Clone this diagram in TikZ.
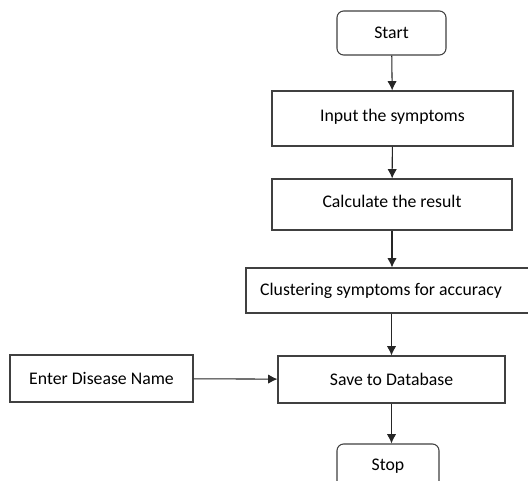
\documentclass[tikz,border=0pt]{standalone}
\usepackage{fontspec}
\setmainfont{Carlito}
\usetikzlibrary{arrows.meta}

\tikzset{
  box/.style={draw=black!75, line width=0.8pt, fill=white, font=\fontsize{13.3}{15}\selectfont, inner sep=0pt},
  term/.style={box, rounded corners=5pt},
  flow/.style={draw=black!85, line width=0.8pt, -{Latex[length=7pt,width=7pt]}}
}

\begin{document}
\begin{tikzpicture}[x=0.75pt, y=-0.75pt]
  \clip (0,0) rectangle (528,481);
  \fill[white] (0,0) rectangle (528,481);

  \node[term, minimum width=81.75pt, minimum height=33pt] (start) at (391.5,33) {Start};
  \node[box, minimum width=180.75pt, minimum height=41.25pt] (input) at (392.5,118.5) {\raisebox{4.5pt}{Input the symptoms}};
  \node[box, minimum width=180pt, minimum height=38.25pt] (calc) at (392,204.5) {\raisebox{4pt}{Calculate the result}};
  \node[box, minimum width=219pt, minimum height=33.75pt] (cluster) at (392,290.5) {\hspace*{-16.5pt}Clustering symptoms for accuracy};
  \node[box, minimum width=170.25pt, minimum height=35.25pt] (save) at (391.5,379.5) {Save to Database};
  \node[box, minimum width=137.25pt, minimum height=35.25pt] (enter) at (101.5,378.5) {Enter Disease Name};
  \node[term, minimum width=76.5pt, minimum height=33pt] (stop) at (388,466) {Stop};

  \draw[flow] (start) -- (input);
  \draw[flow] (input) -- (calc);
  \draw[flow] (calc) -- (cluster);
  \draw[flow] (cluster.south -| save) -- (save);
  \draw[flow] (enter) -- (save);
  \draw[flow] (save) -- (save |- stop.north);
\end{tikzpicture}
\end{document}
